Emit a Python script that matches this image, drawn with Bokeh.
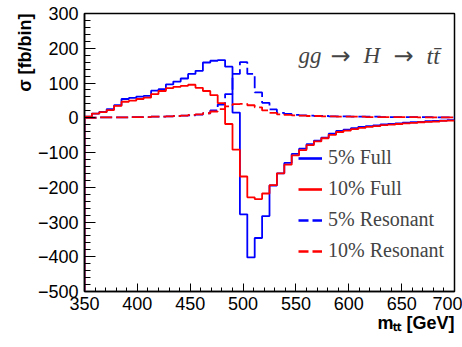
import math
from bokeh.plotting import figure
from bokeh.models import (Range1d, Legend, LegendItem, Label, CustomJSTickFormatter,
                          SingleIntervalTicker, Title)
from bokeh.embed import file_html
from bokeh.resources import INLINE

# ---- data (7 GeV bins from 350 to 700) ----
x_edges = list(range(350, 701, 7))

full_5 = [3, 12, 17, 25, 36, 54, 57, 61, 63, 78,
          82, 96, 104, 113, 126, 135, 159, 164, 166, 147,
          15, -278, -402, -346, -283, -195, -160, -130, -104, -89,
          -76, -66, -57, -46, -38, -34, -30, -26, -24, -22,
          -19, -18, -16, -14, -13, -12, -10, -9, -8, -7]

full_10 = [3, 12, 16, 22, 34, 46, 49, 54, 58, 68,
           77, 85, 89, 92, 95, 86, 77, 65, 42, -18,
           -92, -169, -229, -234, -218, -194, -160, -135, -108, -93,
           -79, -68, -59, -49, -41, -37, -33, -29, -26, -24,
           -21, -20, -18, -16, -15, -13, -12, -11, -9, -8]

res_5 = [0, 0, 1, 1, 1, 1, 2, 2, 2, 3,
         3, 4, 5, 6, 7, 9, 13, 21, 38, 68,
         126, 160, 126, 73, 43, 24, 14, 11, 8, 7,
         6, 5, 5, 4, 4, 4, 3, 3, 3, 3,
         2, 2, 2, 2, 2, 2, 2, 1, 1, 1]

res_10 = [0, 0, 1, 1, 1, 1, 2, 2, 2, 3,
          3, 4, 5, 6, 8, 10, 13, 18, 25, 33,
          39, 40, 36, 30, 21, 14, 10, 8, 7, 6,
          5, 5, 4, 4, 3, 3, 3, 3, 2, 2,
          2, 2, 2, 2, 2, 1, 1, 1, 1, 1]

labels = ["5% Full", "10% Full", "5% Resonant", "10% Resonant"]
x_title = "m\u209c\u209c [GeV]"
y_title = "σ [fb/bin]"
x_min, x_max = 350, 700
y_min, y_max = -500, 300

BLUE = "#0000ff"
RED = "#ff0000"


def step_xy(vals, start=None):
    xs, ys = [], []
    if start is not None:
        xs.append(x_edges[0])
        ys.append(start)
    for i, v in enumerate(vals):
        xs += [x_edges[i], x_edges[i + 1]]
        ys += [v, v]
    return xs, ys


p = figure(width=462, height=347, x_range=Range1d(x_min, x_max), y_range=Range1d(y_min, y_max),
           output_backend="svg", toolbar_location=None,
           min_border_left=84, min_border_right=8, min_border_top=13, min_border_bottom=56)
p.background_fill_color = "white"
p.border_fill_color = "white"
p.xgrid.visible = False
p.ygrid.visible = False
p.outline_line_color = "black"
p.outline_line_width = 1.5

fmt = CustomJSTickFormatter(code="return tick < 0 ? '\\u2212' + Math.abs(tick) : String(tick);")
for ax, interval, mj, mn in ((p.xaxis, 50, 8, 4), (p.yaxis, 100, 11, 6)):
    ax.ticker = SingleIntervalTicker(interval=interval, num_minor_ticks=5)
    ax.formatter = fmt
    ax.axis_line_color = "black"
    ax.axis_line_width = 1.5
    ax.major_tick_in = mj
    ax.major_tick_out = 0
    ax.minor_tick_in = mn
    ax.minor_tick_out = 0
    ax.major_tick_line_color = "black"
    ax.minor_tick_line_color = "black"
    ax.major_label_text_font = "Liberation Sans"
    ax.major_label_text_font_size = "18px"
    ax.major_label_text_color = "black"

p.xaxis.major_label_standoff = 5
p.yaxis.major_label_standoff = 6

# axis titles as side-panel titles, aligned to the far end of each axis
p.add_layout(Title(text=x_title, align="right", standoff=0, vertical_align="top",
                   text_font="Liberation Sans", text_font_style="bold",
                   text_font_size="18px", text_color="black"), "below")
p.add_layout(Title(text=y_title, align="right", standoff=0, vertical_align="bottom",
                   text_font="Liberation Sans", text_font_style="bold",
                   text_font_size="18px", text_color="black"), "left")

lw = 1.8
xs, ys = step_xy(full_5, start=y_min)
p.line(xs, ys, line_color=BLUE, line_width=lw)
xs, ys = step_xy(res_5)
p.line(xs, ys, line_color=BLUE, line_width=lw, line_dash="12 4")
xs, ys = step_xy(full_10, start=y_min)
p.line(xs, ys, line_color=RED, line_width=lw)
xs, ys = step_xy(res_10)
p.line(xs, ys, line_color=RED, line_width=lw, line_dash="12 4")

# legend sample renderers (no visible data, thicker lines)
nan = float("nan")
leg_r = [
    p.line([x_min], [nan], line_color=BLUE, line_width=2.6),
    p.line([x_min], [nan], line_color=RED, line_width=2.6),
    p.line([x_min], [nan], line_color=BLUE, line_width=2.6, line_dash="10 4"),
    p.line([x_min], [nan], line_color=RED, line_width=2.6, line_dash="10 4"),
]
legend = Legend(items=[LegendItem(label=l, renderers=[r]) for l, r in zip(labels, leg_r)],
                location=(214, 29), padding=0, margin=0, spacing=8,
                label_height=22, glyph_height=22, glyph_width=24, label_standoff=6,
                label_text_font="Liberation Serif", label_text_font_size="20px",
                border_line_alpha=0, background_fill_alpha=0)
p.add_layout(legend)

# process label: g g -> H -> t tbar
def proc(text, x, font, style, size):
    p.add_layout(Label(x=x, y=236, x_units="screen", y_units="screen", text=text,
                       text_align="left", text_baseline="alphabetic",
                       text_font=font, text_font_style=style, text_font_size=size))

proc("gg", 214, "Liberation Serif", "italic", "23px")
proc("→", 246, "DejaVu Sans", "normal", "24px")
proc("H", 279, "Liberation Serif", "italic", "23px")
proc("→", 309, "DejaVu Sans", "normal", "24px")
proc("tt\u0304", 342, "Liberation Serif", "italic", "24px")

open("out.html", "w").write(file_html(p, INLINE))
